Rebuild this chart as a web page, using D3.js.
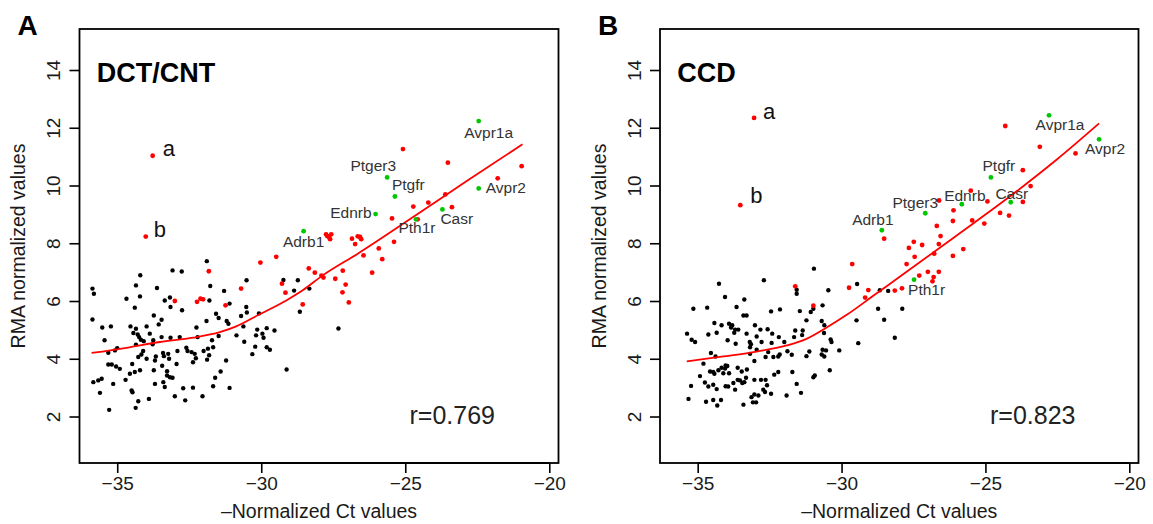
<!DOCTYPE html>
<html><head><meta charset="utf-8">
<script src="https://cdn.jsdelivr.net/npm/d3@7"></script>
<style>
html,body{margin:0;padding:0;background:#fff;}
svg{display:block;font-family:"Liberation Sans",Arial,Helvetica,sans-serif;}
</style></head><body>
<svg id="chart" width="1153" height="524"></svg>
<script>
// ---------------- DATA ----------------
const xTicks = [-35, -30, -25, -20];
const yTicks = [2, 4, 6, 8, 10, 12, 14];
const panelLetters = ["A", "B"];
const panelTitles = ["DCT/CNT", "CCD"];
const rValues = ["r=0.769", "r=0.823"];
const geneNames = ["Avpr1a", "Avpr2", "Ptger3", "Ptgfr", "Ednrb", "Casr", "Pth1r", "Adrb1"];
const outlierNames = ["a", "b"];

// Panel A (DCT/CNT)
const dctBlack = [
[-35.81,6.25],[-34.68,6.08],[-34.21,6.16],[-34.39,5.77],[-33.35,6.02],[-33.17,6.12],[-33.15,5.79],[-32.75,5.68],
[-35.86,5.36],[-33.73,5.50],[-33.46,5.35],[-33.56,5.19],[-31.90,5.31],[-35.52,5.08],[-35.22,5.12],[-34.54,5.12],[-34.35,5.04],[-33.98,5.12],[-32.25,5.08],
[-34.44,4.89],[-34.29,4.84],[-34.24,4.75],[-34.18,4.66],[-33.87,4.87],[-33.46,4.75],[-33.15,4.73],[-32.83,4.75],[-32.21,4.75],
[-35.44,4.64],[-34.08,4.61],[-33.75,4.64],[-33.77,4.50],[-34.35,4.49],[-35.00,4.37],[-35.08,4.29],[-35.31,4.21],
[-32.60,4.38],[-32.56,4.27],[-32.42,4.23],[-32.31,4.17],[-32.00,4.27],[-31.85,4.35],[-31.81,4.12],[-31.88,3.97],
[-34.10,4.27],[-34.16,4.15],[-34.27,4.06],[-33.66,4.08],[-33.41,4.20],[-33.38,4.09],[-33.23,4.17],[-32.91,4.27],
[-33.98,4.00],[-33.69,3.94],[-33.20,4.00],[-32.27,4.02],[-32.37,3.88],
[-35.31,3.80],[-35.19,3.80],[-35.04,3.73],[-34.91,3.65],[-34.48,3.82],[-33.44,3.76],[-32.94,3.82],
[-34.39,3.54],[-34.56,3.48],[-34.21,3.60],[-33.73,3.60],[-33.27,3.57],[-33.27,3.42],[-33.17,3.36],[-33.08,3.34],
[-35.83,3.19],[-35.66,3.25],[-35.54,3.31],[-35.14,3.13],[-34.71,3.27],[-33.69,3.13],[-33.40,3.19],[-33.35,3.02],
[-34.50,2.90],[-34.47,2.84],[-35.60,2.82],[-32.71,2.98],[-32.37,3.00],
[-33.90,2.61],[-34.27,2.53],[-33.00,2.70],[-32.64,2.56],[-32.04,2.70],[-34.36,2.30],[-35.28,2.23],
[-31.89,7.38],[-33.08,7.06],[-32.76,7.02],[-34.20,6.89],[-34.35,6.54],[-33.62,6.45],[-35.86,6.43],
[-31.77,6.52],[-31.29,6.35],[-31.80,6.02],[-31.10,5.91],[-31.57,5.56],[-31.48,5.41],[-31.20,5.31],[-31.14,5.21],
[-31.48,4.79],[-31.71,4.64],[-31.67,4.40],[-31.22,3.94],[-31.41,3.56],[-31.60,3.34],[-31.67,3.05],[-31.10,2.99],[-30.86,4.81],
[-30.51,6.72],[-30.52,5.79],[-30.50,5.60],[-30.70,5.48],[-30.62,5.12],[-30.59,4.59],[-30.08,5.57],[-30.14,5.01],
[-30.18,4.81],[-29.96,4.87],[-29.92,4.73],[-29.81,5.06],[-29.54,4.98],[-30.21,4.42],[-30.31,4.16],[-29.81,4.40],
[-29.70,4.31],[-29.23,6.73],[-28.73,6.72],[-28.86,6.36],[-28.33,6.43],[-28.66,5.63],[-29.12,3.63],[-27.32,5.05]
];
const dctRed = [
[-33.00,6.00],[-32.23,5.97],[-32.11,6.08],[-32.02,6.06],[-31.82,7.03],[-31.24,5.85],
[-30.03,7.33],[-29.48,7.53],[-30.70,6.43],[-29.28,6.60],[-29.16,6.29],[-28.56,5.88],[-28.35,7.13],[-28.14,6.98],
[-27.91,6.88],[-27.84,6.81],[-27.43,6.77],[-27.17,7.05],[-27.07,6.57],[-27.18,6.30],[-26.96,5.95],
[-25.08,11.26],[-23.52,10.79],[-20.96,10.67],[-21.79,10.25],[-23.61,9.69],[-23.38,9.25],[-24.20,9.41],[-24.72,9.27],
[-25.46,8.86],[-24.57,8.83],[-25.39,8.05],[-25.92,7.82],[-25.80,7.45],[-26.15,6.98],[-26.45,7.58],[-26.74,7.97],
[-26.85,8.16],[-26.65,8.24],[-26.57,8.22],[-26.53,8.14],[-27.75,8.31],[-27.65,8.22],[-27.57,8.31],[-27.61,8.14],[-27.71,8.25]
];
// same order as geneNames
const dctGenes = [[-22.45,12.23],[-22.45,9.90],[-25.63,10.28],[-25.36,9.62],[-26.03,9.01],[-23.71,9.17],[-24.63,8.83],[-28.53,8.42]];
const dctOutliers = [[-33.77,11.03],[-34.01,8.23]];
const dctFit = [[-35.89,4.20],[-34.68,4.38],[-33.52,4.58],[-32.37,4.73],[-31.44,4.92],[-30.87,5.12],[-30.06,5.54],
[-29.13,6.02],[-28.56,6.37],[-27.89,6.87],[-26.65,7.64],[-24.74,8.90],[-22.84,10.17],[-20.93,11.43]];

// Panel B (CCD)
const ccdBlack = [
[-34.05,6.14],[-33.38,6.05],[-35.15,5.73],[-34.67,5.77],[-33.65,5.79],[-33.41,5.50],[-33.30,5.50],[-32.45,5.64],[-32.14,5.71],
[-34.42,5.24],[-34.17,5.16],[-33.91,5.21],[-33.80,5.16],[-33.84,5.08],[-33.70,5.01],[-33.59,5.01],[-33.01,5.16],[-32.82,5.01],[-32.57,5.02],
[-35.37,4.87],[-35.21,4.66],[-35.09,4.58],[-34.63,4.84],[-34.34,4.90],[-33.73,4.90],[-33.30,4.87],[-32.41,4.87],[-32.18,4.75],
[-33.96,4.64],[-33.68,4.52],[-33.19,4.58],[-33.15,4.50],[-33.18,4.40],[-32.95,4.77],[-32.78,4.58],[-32.43,4.55],[-31.99,4.58],
[-34.54,4.20],[-34.38,4.08],[-33.18,4.17],[-32.95,4.31],[-32.64,4.06],[-32.55,4.23],[-32.37,4.06],[-32.20,4.08],[-32.15,4.15],
[-34.80,3.83],[-33.03,3.92],
[-34.57,3.56],[-34.46,3.54],[-34.42,3.48],[-34.28,3.60],[-34.17,3.69],[-34.05,3.66],[-34.03,3.77],[-33.97,3.75],[-33.91,3.50],
[-33.61,3.69],[-33.47,3.56],[-33.29,3.63],[-34.11,3.50],
[-34.92,3.40],[-35.23,3.06],[-34.75,3.18],[-34.63,3.04],[-34.46,3.10],[-34.34,2.95],[-34.03,3.05],[-33.94,3.04],[-33.76,3.16],
[-33.70,2.93],[-33.53,3.25],[-33.45,3.16],[-33.61,3.27],[-33.38,3.19],[-33.32,3.34],[-33.03,3.27],[-32.80,3.27],[-32.64,3.27],
[-32.34,3.45],[-32.20,3.54],
[-33.03,2.76],[-32.89,2.73],[-33.13,2.67],[-33.08,2.49],[-32.97,2.49],[-32.72,2.93],[-32.66,2.85],[-32.59,3.08],[-32.45,2.79],
[-35.32,2.61],[-34.71,2.51],[-34.46,2.57],[-34.32,2.38],[-34.19,2.57],[-33.41,2.41],
[-34.26,6.60],[-32.70,6.72],[-30.96,7.12],[-31.56,6.39],[-31.56,6.25],[-30.98,5.73],[-30.46,6.37],[-30.66,5.85],
[-31.07,5.62],[-31.45,5.65],[-31.22,5.33],[-31.61,4.98],[-31.35,4.98],[-31.37,4.82],[-31.65,4.75],[-30.60,5.16],
[-30.69,5.31],[-30.38,4.67],[-30.35,4.58],[-30.08,4.29],[-31.12,4.25],[-31.22,4.09],[-30.69,4.15],[-30.66,4.31],
[-30.54,4.29],[-30.60,4.08],[-31.71,3.54],[-31.56,3.13],[-31.41,2.82],[-30.98,3.36],[-30.93,3.42],[-30.41,3.60],
[-31.91,2.73],[-29.48,5.33],[-29.42,4.54],[-28.52,5.35],[-28.15,4.73],[-30.61,4.89],[-31.73,4.14],[-31.88,4.26],
[-29.46,6.59],[-28.67,6.37],[-28.38,6.35],[-28.73,5.73],[-27.89,5.73]
];
const ccdRed = [
[-31.61,6.51],[-30.98,5.84],
[-24.31,12.06],[-23.11,11.34],[-21.87,11.11],[-23.70,10.53],[-23.43,9.98],[-23.70,9.43],[-24.18,8.96],[-24.49,9.05],
[-24.93,9.45],[-25.51,9.82],[-25.04,8.68],[-25.46,8.79],[-26.61,9.48],[-26.11,9.14],[-26.13,8.77],[-26.69,8.60],
[-26.56,8.25],[-28.52,8.16],[-27.49,8.05],[-27.20,7.94],[-27.66,7.84],[-26.62,7.97],[-26.78,7.64],[-27.46,7.53],
[-25.77,7.80],[-26.13,7.56],[-27.74,7.28],[-29.63,7.28],[-27.30,6.88],[-27.00,7.01],[-26.80,6.83],[-26.62,7.01],
[-26.84,6.68],[-27.90,6.44],[-28.15,6.36],[-29.07,6.38],[-29.74,6.46],[-29.18,6.12]
];
const ccdGenes = [[-22.79,12.43],[-21.05,11.60],[-27.09,9.04],[-24.81,10.28],[-25.82,9.35],[-24.12,9.42],[-27.48,6.74],[-28.60,8.45]];
const ccdOutliers = [[-33.04,12.34],[-33.52,9.32]];
const ccdFit = [[-35.38,3.91],[-34.11,4.08],[-32.95,4.25],[-31.91,4.46],[-31.22,4.69],[-30.52,5.08],[-29.82,5.52],
[-28.90,6.18],[-27.74,7.01],[-26.00,8.27],[-24.27,9.53],[-22.53,10.89],[-21.05,12.15]];

// ---------------- LAYOUT / STYLE ----------------
const W = 1153, H = 524;
const TOP = 29, BOTTOM = 463;
const panels = [
  {left: 79.5, right: 558.5, black: dctBlack, red: dctRed, genes: dctGenes, out: dctOutliers, fit: dctFit,
   geneLab: {Avpr1a:[10,17,"middle"],Avpr2:[7,5,"start"],Ptger3:[9,-6,"end"],Ptgfr:[-3,-6,"start"],
             Ednrb:[-4,4,"end"],Casr:[-2,15,"start"],Pth1r:[1,14,"middle"],Adrb1:[0,16,"middle"]},
   outLab: [[10,0],[8,0]]},
  {left: 660, right: 1138.5, black: ccdBlack, red: ccdRed, genes: ccdGenes, out: ccdOutliers, fit: ccdFit,
   geneLab: {Avpr1a:[11,15,"middle"],Avpr2:[6,15,"middle"],Ptger3:[-10,-5,"middle"],Ptgfr:[8,-6,"middle"],
             Ednrb:[3,-3,"middle"],Casr:[1,-3,"middle"],Pth1r:[-6,15,"start"],Adrb1:[-9,-5,"middle"]},
   outLab: [[9,1],[10,-2]]}
];
const xDomain = [-36.31, -19.68];
const yDomain = [0.39, 15.42];
const RED = "#ff0000", GREEN = "#00c800";

const svg = d3.select("#chart");
svg.append("rect").attr("width", W).attr("height", H).attr("fill", "#fff");

panels.forEach((p, i) => {
  const x = d3.scaleLinear().domain(xDomain).range([p.left, p.right]);
  const y = d3.scaleLinear().domain(yDomain).range([BOTTOM, TOP]);
  const g = svg.append("g");

  // axes
  const xa = g.append("g").attr("transform", `translate(0,${BOTTOM})`)
    .call(d3.axisBottom(x).tickValues(xTicks).tickSize(10).tickSizeOuter(0)
      .tickFormat(d => d < 0 ? "\u2212" + Math.abs(d) : d));
  xa.select(".domain").remove();
  xa.selectAll(".tick line").attr("stroke", "#000").attr("stroke-width", 1.6);
  xa.selectAll(".tick text").attr("y", 27).attr("dy", 0)
    .attr("font-size", 19).attr("fill", "#1a1a1a").attr("font-family", "Liberation Sans, Arial, sans-serif");
  g.append("line").attr("x1", x(xTicks[0])).attr("x2", x(xTicks[xTicks.length-1]))
    .attr("y1", BOTTOM).attr("y2", BOTTOM).attr("stroke", "#000").attr("stroke-width", 1.8);

  const ya = g.append("g").attr("transform", `translate(${p.left},0)`)
    .call(d3.axisLeft(y).tickValues(yTicks).tickSize(10).tickSizeOuter(0));
  ya.select(".domain").remove();
  ya.selectAll(".tick line").attr("stroke", "#000").attr("stroke-width", 1.6);
  ya.selectAll(".tick text").attr("transform", "rotate(-90)").attr("x", 0).attr("y", -19.5).attr("dy", 0)
    .attr("text-anchor", "middle").attr("font-size", 19).attr("fill", "#1a1a1a")
    .attr("font-family", "Liberation Sans, Arial, sans-serif");

  // box
  g.append("rect").attr("x", p.left).attr("y", TOP).attr("width", p.right - p.left).attr("height", BOTTOM - TOP)
    .attr("fill", "none").attr("stroke", "#000").attr("stroke-width", 1.8);

  // points
  g.append("g").selectAll("circle").data(p.black).join("circle")
    .attr("cx", d => x(d[0])).attr("cy", d => y(d[1])).attr("r", 2.2).attr("fill", "#000");
  g.append("g").selectAll("circle").data(p.red).join("circle")
    .attr("cx", d => x(d[0])).attr("cy", d => y(d[1])).attr("r", 2.4).attr("fill", RED);
  g.append("g").selectAll("circle").data(p.out).join("circle")
    .attr("cx", d => x(d[0])).attr("cy", d => y(d[1])).attr("r", 2.4).attr("fill", RED);
  g.append("g").selectAll("circle").data(p.genes).join("circle")
    .attr("cx", d => x(d[0])).attr("cy", d => y(d[1])).attr("r", 2.4).attr("fill", GREEN);

  // fit line
  g.append("path").datum(p.fit)
    .attr("d", d3.line().x(d => x(d[0])).y(d => y(d[1])).curve(d3.curveMonotoneX))
    .attr("fill", "none").attr("stroke", RED).attr("stroke-width", 1.8);

  // gene labels
  p.genes.forEach((d, k) => {
    const name = geneNames[k];
    const o = p.geneLab[name];
    g.append("text").attr("x", x(d[0]) + o[0]).attr("y", y(d[1]) + o[1]).attr("text-anchor", o[2])
      .attr("font-size", 15.5).attr("fill", "#333").text(name);
  });
  // outlier labels
  p.out.forEach((d, k) => {
    g.append("text").attr("x", x(d[0]) + p.outLab[k][0]).attr("y", y(d[1]) + p.outLab[k][1])
      .attr("font-size", 22).attr("fill", "#111").text(outlierNames[k]);
  });

  // titles & annotations
  g.append("text").attr("x", p.left - 62).attr("y", 35).attr("font-size", 28).attr("font-weight", "bold")
    .attr("fill", "#000").text(panelLetters[i]);
  g.append("text").attr("x", p.left + 17.3).attr("y", 81.7).attr("font-size", 27).attr("font-weight", "bold")
    .attr("fill", "#000").text(panelTitles[i]);
  g.append("text").attr("x", p.left + 330).attr("y", 424).attr("font-size", 25)
    .attr("fill", "#222").text(rValues[i]);
  g.append("text").attr("x", (p.left + p.right) / 2).attr("y", 518).attr("text-anchor", "middle")
    .attr("font-size", 19.5).attr("fill", "#1a1a1a").text("\u2013Normalized Ct values");
  g.append("text").attr("transform", `translate(${p.left - 54.5},${(TOP + BOTTOM) / 2}) rotate(-90)`)
    .attr("text-anchor", "middle").attr("font-size", 19.5).attr("fill", "#1a1a1a").text("RMA normalized values");
});
</script>
</body></html>
